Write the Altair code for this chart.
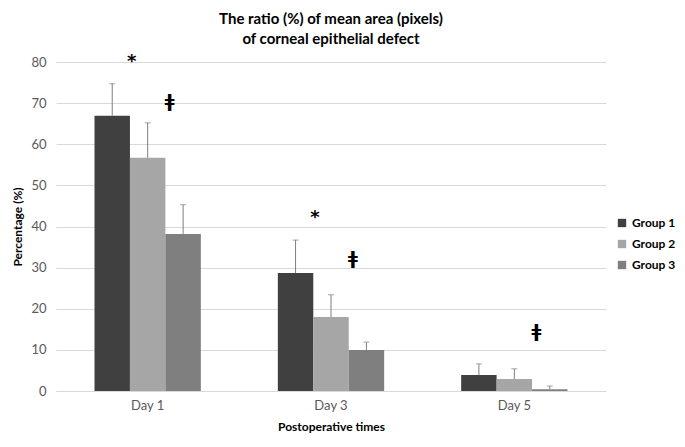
import altair as alt
import pandas as pd

days = ["Day 1", "Day 3", "Day 5"]
groups = ["Group 1", "Group 2", "Group 3"]
means = {
    "Group 1": [66.9, 28.7, 3.9],
    "Group 2": [56.7, 18.0, 2.9],
    "Group 3": [38.2, 10.0, 0.4],
}
errors = {
    "Group 1": [7.8, 8.0, 2.7],
    "Group 2": [8.5, 5.4, 2.5],
    "Group 3": [7.1, 1.9, 0.8],
}
colors = ["#404040", "#a6a6a6", "#7f7f7f"]

star_days = ["Day 1", "Day 3"]
star_values = [81.0, 43.0]
dagger_days = ["Day 1", "Day 3", "Day 5"]
dagger_values = [70.3, 32.0, 14.4]

rows = []
for g in groups:
    for i, d in enumerate(days):
        rows.append({"Day": d, "Group": g, "value": means[g][i],
                     "upper": means[g][i] + errors[g][i]})
df = pd.DataFrame(rows)
stars = pd.DataFrame({"Day": star_days, "value": star_values, "sym": "*"})
daggers = pd.DataFrame({"Day": dagger_days, "value": dagger_values, "sym": "ǂ"})

FONT = "Lato"
xenc = alt.X("Day:N", sort=days,
             scale=alt.Scale(paddingInner=0.42, paddingOuter=0.21),
             axis=alt.Axis(title="Postoperative times", labelAngle=0,
                           labelColor="#595959", labelFontSize=13,
                           titleFontSize=12, titleFontWeight="bold",
                           titleColor="#000000", domainColor="#d9d9d9",
                           ticks=False, labelPadding=8, titlePadding=9,
                           grid=False))
yscale = alt.Scale(domain=[0, 80])
xoff = alt.XOffset("Group:N", sort=groups, scale=alt.Scale(paddingInner=0))

bars = alt.Chart(df).mark_bar().encode(
    x=xenc,
    xOffset=xoff,
    y=alt.Y("value:Q", scale=yscale,
            axis=alt.Axis(title="Percentage (%)", values=list(range(0, 81, 10)),
                          labelColor="#595959", labelFontSize=13,
                          titleFontSize=12, titleFontWeight="bold",
                          titleColor="#000000", gridColor="#d9d9d9",
                          domain=False, ticks=False, labelPadding=10,
                          titlePadding=6)),
    color=alt.Color("Group:N", sort=groups,
                    scale=alt.Scale(domain=groups, range=colors),
                    legend=alt.Legend(title=None, orient="none", legendX=560,
                                      legendY=155, symbolType="square",
                                      symbolSize=70, symbolStrokeWidth=0,
                                      labelFontSize=12, labelFontWeight="bold",
                                      labelColor="#000000", rowPadding=9,
                                      labelOffset=4)),
)

err = alt.Chart(df).mark_rule(color="#7f7f7f", strokeWidth=1).encode(
    x=alt.X("Day:N", sort=days), xOffset=xoff,
    y=alt.Y("value:Q", scale=yscale), y2="upper:Q")
caps = alt.Chart(df).mark_tick(color="#7f7f7f", orient="horizontal",
                               size=6, thickness=1).encode(
    x=alt.X("Day:N", sort=days), xOffset=xoff,
    y=alt.Y("upper:Q", scale=yscale))

star_text = alt.Chart(stars).mark_text(fontSize=18, fontWeight="bold", dx=-16,
                                       dy=4, font="DejaVu Sans").encode(
    x=alt.X("Day:N", sort=days), y=alt.Y("value:Q", scale=yscale), text="sym:N")
dagger_text = alt.Chart(daggers).mark_text(fontSize=18, fontWeight="bold", dx=22,
                                           font="DejaVu Sans").encode(
    x=alt.X("Day:N", sort=days), y=alt.Y("value:Q", scale=yscale), text="sym:N")

chart = alt.layer(bars, err, caps, star_text, dagger_text).properties(
    width=550, height=329,
    autosize=alt.AutoSizeParams(type="none"),
    padding={"left": 48, "top": 54, "right": 71, "bottom": 48},
    title=alt.TitleParams(["The ratio (%) of mean area (pixels)",
                           "of corneal epithelial defect"],
                          fontSize=15, fontWeight="bold", color="#000000",
                          anchor="middle", offset=6, lineHeight=20),
).configure(font=FONT).configure_view(stroke=None)

chart.save("out.html", embed_options={"renderer": "svg", "actions": False})
